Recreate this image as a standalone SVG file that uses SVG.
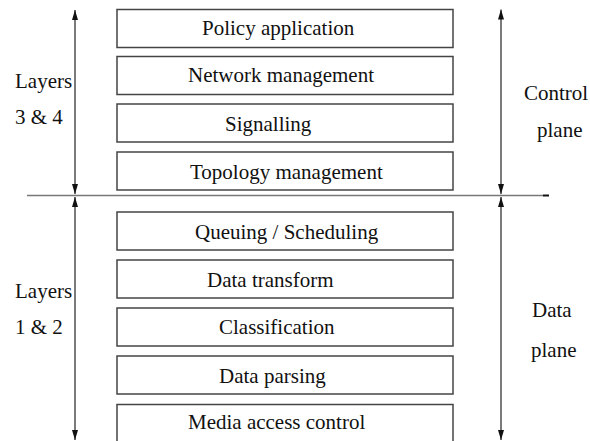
<svg xmlns="http://www.w3.org/2000/svg" width="590" height="441" viewBox="0 0 590 441">
  <style>
    .box { fill: #ffffff; stroke: #444444; stroke-width: 1.5; }
    .lbl { font-family: "Liberation Serif", "Times New Roman", serif; font-size: 21px; fill: #111111; }
    .arr { stroke: #333333; stroke-width: 1.3; fill: none; }
    .sep { stroke: #777777; stroke-width: 1.6; }
  </style>
  <defs>
    <marker id="head" viewBox="0 0 10 6" refX="10" refY="3" markerWidth="10" markerHeight="6" markerUnits="userSpaceOnUse" orient="auto-start-reverse">
      <path d="M0,0 L10,3 L0,6 Z" fill="#111111"/>
    </marker>
  </defs>
  <rect width="590" height="441" fill="#ffffff"/>

  <!-- control plane stack -->
  <g id="policy"><rect class="box" x="117" y="9.5" width="336" height="38"/><text class="lbl" x="202" y="35">Policy application</text></g>
  <g id="netmgmt"><rect class="box" x="117" y="56.5" width="336" height="38"/><text class="lbl" x="188" y="82">Network management</text></g>
  <g id="signalling"><rect class="box" x="117" y="104" width="336" height="38"/><text class="lbl" x="225" y="130.5">Signalling</text></g>
  <g id="topology"><rect class="box" x="117" y="152" width="336" height="38"/><text class="lbl" x="190" y="178.5">Topology management</text></g>

  <!-- data plane stack -->
  <g id="queuing"><rect class="box" x="117" y="212" width="336" height="38"/><text class="lbl" x="195" y="238.5">Queuing / Scheduling</text></g>
  <g id="transform"><rect class="box" x="117" y="260" width="336" height="38"/><text class="lbl" x="207" y="286.5">Data transform</text></g>
  <g id="classification"><rect class="box" x="117" y="308" width="336" height="38"/><text class="lbl" x="219" y="334">Classification</text></g>
  <g id="parsing"><rect class="box" x="117" y="356" width="336" height="38"/><text class="lbl" x="219" y="382.5">Data parsing</text></g>
  <g id="mac"><rect class="box" x="117" y="404.5" width="336" height="40"/><text class="lbl" x="188" y="428.5">Media access control</text></g>

  <!-- side labels -->
  <g id="layers34"><text class="lbl" x="15" y="88">Layers</text><text class="lbl" x="15" y="124">3 &amp; 4</text></g>
  <g id="layers12"><text class="lbl" x="15" y="298">Layers</text><text class="lbl" x="15" y="334">1 &amp; 2</text></g>
  <g id="control-plane"><text class="lbl" x="524" y="100">Control</text><text class="lbl" x="537" y="137">plane</text></g>
  <g id="data-plane"><text class="lbl" x="532" y="317">Data</text><text class="lbl" x="531" y="357">plane</text></g>

  <!-- connectors: plane divider and extent arrows -->
  <g id="connectors">
    <line class="sep" x1="27" y1="195.5" x2="543" y2="195.5"/>
    <line x1="543" y1="195.5" x2="549" y2="195.5" stroke="#111111" stroke-width="2"/>
    <line class="arr" x1="75" y1="10" x2="75" y2="194" marker-start="url(#head)" marker-end="url(#head)"/>
    <line class="arr" x1="75" y1="197" x2="75" y2="440" marker-start="url(#head)" marker-end="url(#head)"/>
    <line class="arr" x1="501" y1="9.5" x2="501" y2="194" marker-start="url(#head)" marker-end="url(#head)"/>
    <line class="arr" x1="501" y1="197" x2="501" y2="440" marker-start="url(#head)" marker-end="url(#head)"/>
  </g>
</svg>
